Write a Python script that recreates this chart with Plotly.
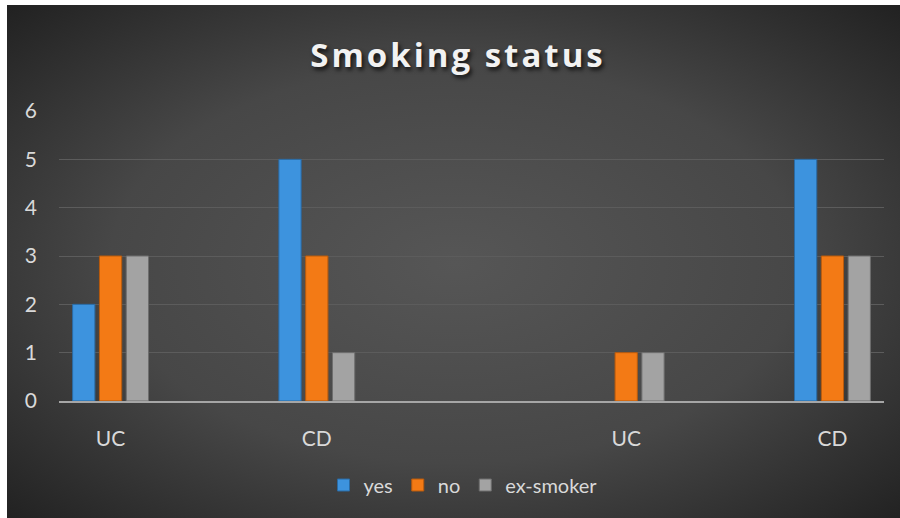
import base64
import plotly.graph_objects as go

# ---- data ----
categories = ["UC", "", "CD", "", "", "UC", "", "CD"]
yes_vals = [2, None, 5, None, None, 0, None, 5]
no_vals = [3, None, 3, None, None, 1, None, 3]
ex_vals = [3, None, 1, None, None, 1, None, 3]
series_names = ["yes", "no", "ex-smoker"]
y_ticks = [0, 1, 2, 3, 4, 5, 6]

colors = ["#3d93de", "#f37a15", "#a3a3a3"]
line_colors = ["#2a6aa3", "#b85a0c", "#6e6e6e"]

x_pos = list(range(len(categories)))

fig = go.Figure()
for name, vals, c, lc in zip(series_names, [yes_vals, no_vals, ex_vals], colors, line_colors):
    fig.add_trace(go.Bar(
        x=x_pos, y=vals, name=name,
        marker=dict(color=c, line=dict(color=lc, width=[1 if v else 0 for v in vals])),
    ))

# radial gradient background as svg image
svg = """<svg xmlns='http://www.w3.org/2000/svg' width='893' height='513' viewBox='0 0 893 513' preserveAspectRatio='none'>
<defs><radialGradient id='g' cx='50%' cy='50%' r='70%'>
<stop offset='0%' stop-color='#565656'/>
<stop offset='55%' stop-color='#474747'/>
<stop offset='100%' stop-color='#222222'/>
</radialGradient></defs>
<rect width='893' height='513' fill='url(#g)'/></svg>"""
src = "data:image/svg+xml;base64," + base64.b64encode(svg.encode()).decode()

L, R, T, B = 59, 16, 111, 117
W, H = 900, 518
pw, ph = W - L - R, H - T - B

fig.add_layout_image(dict(
    source=src, xref="paper", yref="paper",
    x=(7 - L) / pw, y=(H - B - 5) / ph,
    sizex=(W - 7 + 4) / pw, sizey=(H - 5 + 4) / ph,
    xanchor="left", yanchor="top", sizing="stretch", layer="below",
))

# white outer border strips (left and top)
fig.add_shape(type="rect", xref="paper", yref="paper",
              x0=-L / pw, x1=(7 - L) / pw, y0=-B / ph, y1=(H - B) / ph,
              fillcolor="white", line_width=0, layer="above")
fig.add_shape(type="rect", xref="paper", yref="paper",
              x0=-L / pw, x1=(W - L) / pw, y0=(H - B - 5) / ph, y1=(H - B) / ph,
              fillcolor="white", line_width=0, layer="above")

tick_font = dict(family="Lato, Open Sans, sans-serif", size=21, color="#d9d9d9")

fig.update_layout(
    width=W, height=H,
    margin=dict(l=L, r=R, t=T, b=B, pad=0),
    paper_bgcolor="#242424",
    plot_bgcolor="rgba(0,0,0,0)",
    barmode="group",
    bargap=0.22,
    bargroupgap=0.17,
    title=dict(
        text="<b>Smoking status</b>",
        x=458 / W, xanchor="center",
        y=1 - 55 / H, yanchor="middle",
        font=dict(family="Open Sans, sans-serif", size=33, color="#f2f2f2",
                  shadow="2px 3px 4px rgba(0,0,0,0.75)"),
    ),
    xaxis=dict(
        tickmode="array", tickvals=x_pos, ticktext=categories,
        range=[-0.5, len(categories) - 0.5],
        showgrid=False, zeroline=False,
        showline=True, linecolor="#a6a6a6", linewidth=2,
        ticks="", tickfont=tick_font, ticklabelstandoff=18,
        fixedrange=True,
    ),
    yaxis=dict(
        range=[0, 6], tickvals=y_ticks,
        showgrid=True, gridcolor="#5c5c5c", gridwidth=1,
        zeroline=False, showline=False, ticks="",
        tickfont=tick_font, ticklabelstandoff=21,
    ),
    legend=dict(
        orientation="h", x=(463 - L) / pw, xanchor="center",
        y=(H - B - 485) / ph, yanchor="middle",
        font=dict(family="Lato, Open Sans, sans-serif", size=20, color="#d9d9d9"),
        bgcolor="rgba(0,0,0,0)", itemwidth=30,
    ),
    showlegend=True,
)

post = """
document.body.style.margin = '0px';
document.querySelectorAll('.gtitle').forEach(function(t){ t.style.letterSpacing = '3px'; });
"""
fig.write_html("out.html", post_script=post, config={"displayModeBar": False})
